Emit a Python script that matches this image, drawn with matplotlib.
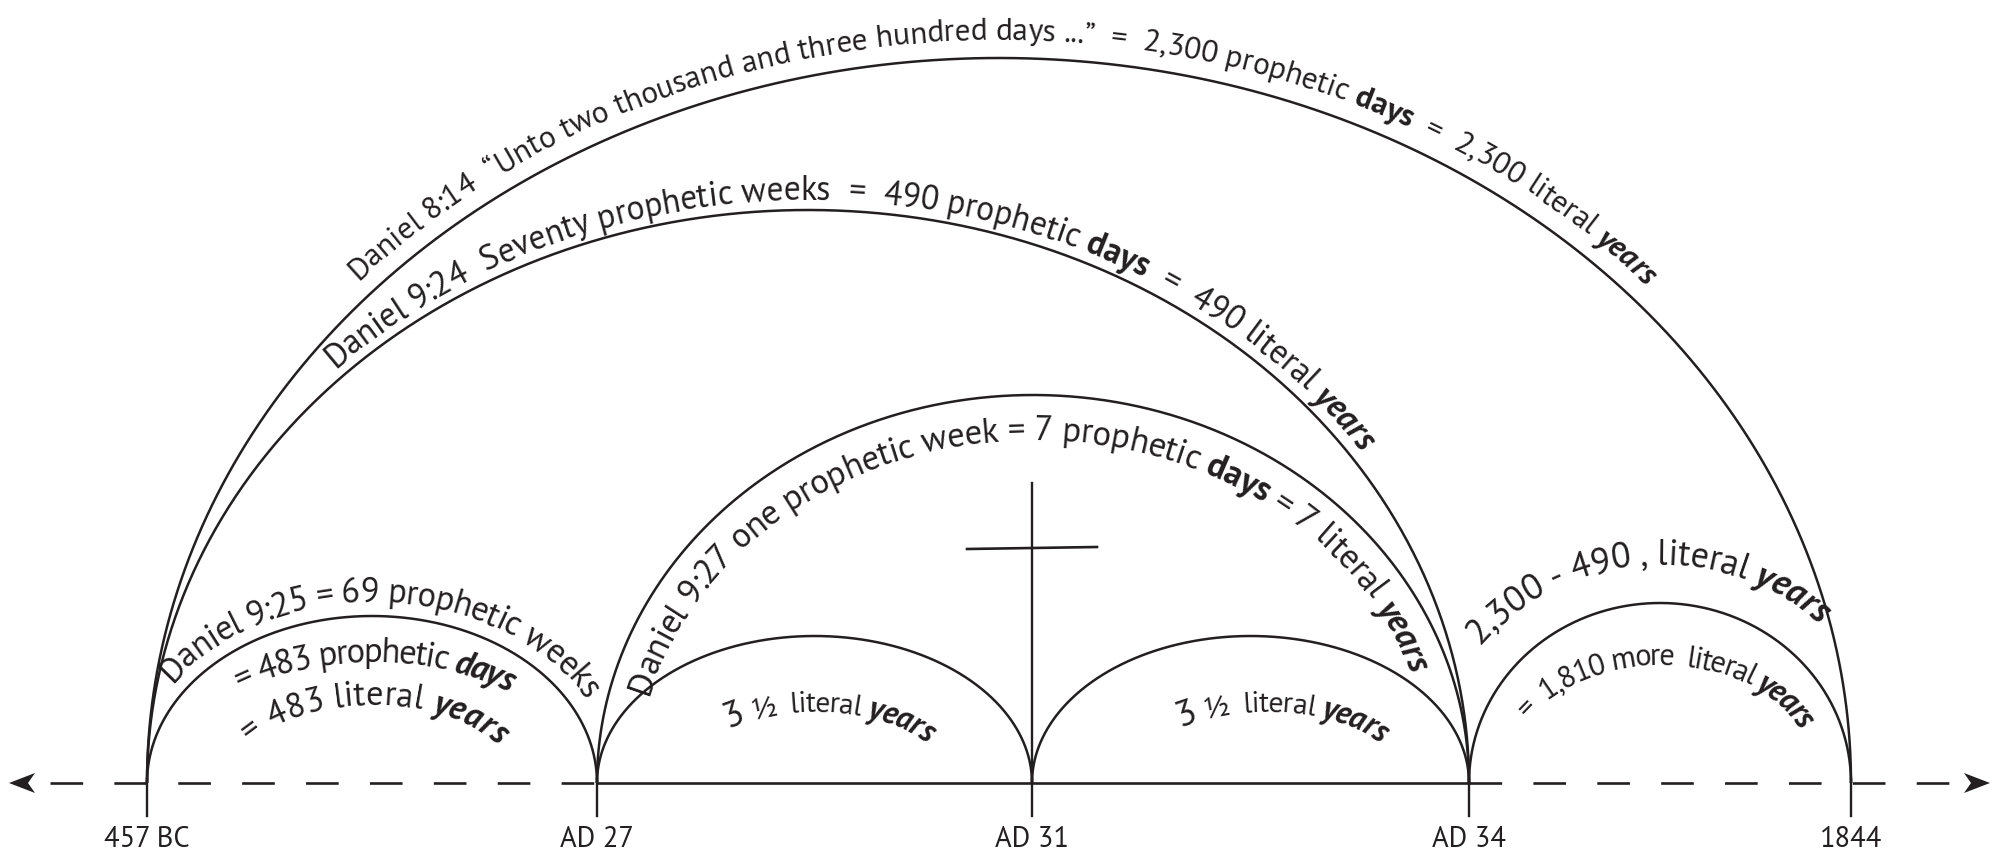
import numpy as np
import matplotlib
matplotlib.use('Agg')
import matplotlib.pyplot as plt
from matplotlib import font_manager as fm
from matplotlib.font_manager import FontProperties, findfont
from matplotlib.ft2font import FT2Font
from matplotlib.patches import Polygon

plt.rcParams['lines.scale_dashes'] = False

# ---------------- data ----------------
date_labels = ['457 BC', 'AD 27', 'AD 31', 'AD 34', '1844']
# arcs spanning between dates (index pairs)
arc_spans = [(0, 4), (0, 3), (1, 3), (0, 1), (1, 2), (2, 3), (3, 4)]

# texts: (arc index, segments[(text, style, relative size)])
text_segments = [
    (0, [('Daniel 8:14  \u201cUnto two thousand and three hundred days ...\u201d  =  2,300 prophetic ', 'r', 1.0),
         ('days', 'b', 1.0), ('  =  2,300 literal ', 'r', 1.0), ('years', 'bi', 1.0)]),
    (1, [('Daniel 9:24  Seventy prophetic weeks  =  490 prophetic ', 'r', 1.0),
         ('days', 'b', 1.0), ('  =  490 literal ', 'r', 1.0), ('years', 'bi', 1.0)]),
    (2, [('Daniel 9:27 one prophetic week = 7 prophetic ', 'r', 1.0),
         ('days', 'b', 1.0), (' = 7 literal ', 'r', 1.0), ('years', 'bi', 1.0)]),
    (3, [('Daniel 9:25 = 69 prophetic weeks', 'r', 1.0)]),
    (3, [('= 483 prophetic ', 'r', 1.0), ('days', 'bi', 1.0)]),
    (3, [('= 483 literal ', 'r', 1.0), ('years', 'bi', 1.0)]),
    (4, [('3', 'r', 1.25), (' \u00bd  literal ', 'r', 1.0), ('years', 'bi', 1.08)]),
    (5, [('3', 'r', 1.25), (' \u00bd  literal ', 'r', 1.0), ('years', 'bi', 1.08)]),
    (6, [('2,300 - 490 , literal ', 'r', 1.0), ('years', 'bi', 1.0)]),
    (6, [('=  1,810 more  literal ', 'r', 1.0), ('years', 'bi', 1.05)]),
]

# ---------------- layout ----------------
W, H, DPI = 2007, 858, 100
INK = '#231f20'
date_x = [147, 597, 1032, 1469, 1851]
BASE_Y = 783
arc_heights = [725, 573, 388, 167, 147, 147, 180]
# per-text baseline ellipse: (dcx, da, db, x_start, x_end, size multiplier vs. fit)
text_layout = [
    (0, 18, 18, 358, 1645, 1.02),
    (0, 10, 10, 335, 1360, 1.02),
    (0, -38, -45, 648, 1410, 1.04),
    (0, 14, 14, 172, 585, 1.06),
    (0, -20, -46, 240, 508, 1.12),
    (0, -82, -89, 250, 497, 1.0),
    (0, -82, -76, 728, 926, 1.08),
    (15, -80, -76, 1180, 1380, 1.08),
    (0, 41, 38, 1480, 1818, 1.04),
    (0, -34, -62, 1528, 1800, 1.15),
]
ARC_LW = 1.8
TICK_BOTTOM = 816
LABEL_BASE = 847
LABEL_CAP_PX = 20.0


def pick_family():
    cands = ['Source Sans 3', 'Source Sans Pro', 'PT Sans', 'Myriad Pro', 'Open Sans']
    for fam in cands:
        ent = [f for f in fm.fontManager.ttflist if f.name == fam]
        if not ent:
            continue
        def w(f):
            try:
                return int(f.weight)
            except Exception:
                return 700 if 'bold' in str(f.weight).lower() else 400
        reg = any(f.style == 'normal' and w(f) == 400 for f in ent)
        bold = any(f.style == 'normal' and w(f) >= 600 for f in ent)
        bi = any(f.style == 'italic' and w(f) >= 600 for f in ent)
        if reg and bold and bi:
            return fam
    return 'Open Sans'


FAMILY = pick_family()


def make_prop(style):
    if style == 'b':
        return FontProperties(family=FAMILY, weight='bold')
    if style == 'bi':
        return FontProperties(family=FAMILY, weight='bold', style='italic')
    return FontProperties(family=FAMILY)


def cap_fraction(prop):
    font = FT2Font(findfont(prop), hinting_factor=1)
    try:
        os2 = font.get_sfnt_table('OS/2')
        cap = os2.get('sCapHeight', 0)
        if cap:
            return cap / font.units_per_EM
    except Exception:
        pass
    return 0.7


def arc_geom(i):
    a_idx, b_idx = arc_spans[i]
    x0, x1 = date_x[a_idx], date_x[b_idx]
    return (x0 + x1) / 2, (x1 - x0) / 2, arc_heights[i]


def text_on_arc(ax, cx, a, b, xs, xe, segments, mult):
    th = np.linspace(0, np.pi, 4000)
    x = cx - a * np.cos(th)
    y = BASE_Y - b * np.sin(th)
    s = np.concatenate([[0], np.cumsum(np.hypot(np.diff(x), np.diff(y)))])
    t0 = np.arccos(np.clip((cx - xs) / a, -1, 1))
    t1 = np.arccos(np.clip((cx - xe) / a, -1, 1))
    s0, s1 = np.interp(t0, th, s), np.interp(t1, th, s)
    span = s1 - s0
    ref = 20.0
    chars = []
    total = 0.0
    for txt, style, rel in segments:
        prop = make_prop(style)
        font = FT2Font(findfont(prop), hinting_factor=1)
        font.set_size(ref * rel, DPI)
        for c in txt:
            g = font.load_char(ord(c))
            adv = g.linearHoriAdvance / 65536.0
            chars.append((c, prop, rel, total, adv))
            total += adv
    k = span / total * mult
    n = len(chars)
    track = (span - total * k) / (n - 1) if n > 1 else 0.0
    for i, (c, prop, rel, cum, adv) in enumerate(chars):
        if c == ' ':
            continue
        sc = s0 + cum * k + i * track + adv * k / 2
        tt = np.interp(sc, s, th)
        px = cx - a * np.cos(tt)
        py = BASE_Y - b * np.sin(tt)
        ang = np.degrees(np.arctan2(b * np.cos(tt), a * np.sin(tt)))
        ax.text(px, py, c, fontproperties=prop, fontsize=ref * k * rel, rotation=ang,
                rotation_mode='anchor', ha='center', va='baseline', color=INK)


fig = plt.figure(figsize=(W / DPI, H / DPI), dpi=DPI)
ax = fig.add_axes([0, 0, 1, 1])
ax.set_xlim(0, W)
ax.set_ylim(H, 0)
ax.axis('off')

# arcs
for i in range(len(arc_spans)):
    cx, a, b = arc_geom(i)
    th = np.linspace(0, np.pi, 600)
    ax.plot(cx - a * np.cos(th), BASE_Y - b * np.sin(th), color=INK, lw=ARC_LW,
            solid_capstyle='butt')

# baseline
ax.plot([50, date_x[1]], [BASE_Y, BASE_Y], color=INK, lw=1.9, dashes=(23.5, 22.5))
ax.plot([date_x[1], date_x[3]], [BASE_Y, BASE_Y], color=INK, lw=1.9)
ax.plot([date_x[3], 1962], [BASE_Y, BASE_Y], color=INK, lw=1.9, dashes=(23.5, 22.5))

# arrow heads
for tip, d in [(9, 1), (1990, -1)]:
    ax.add_patch(Polygon([(tip, BASE_Y), (tip + d * 26, BASE_Y - 10),
                          (tip + d * 19, BASE_Y), (tip + d * 26, BASE_Y + 10)],
                         closed=True, color=INK, lw=0))

# ticks and labels
reg_prop = make_prop('r')
label_size = LABEL_CAP_PX / cap_fraction(reg_prop) * 72.0 / DPI
for xd, lab in zip(date_x, date_labels):
    ax.plot([xd, xd], [BASE_Y - 4, TICK_BOTTOM], color=INK, lw=1.7)
    ax.text(xd, LABEL_BASE, lab, ha='center', va='baseline', fontsize=label_size,
            family=FAMILY, color=INK)

# cross
ax.plot([date_x[2], date_x[2]], [483, BASE_Y], color=INK, lw=1.7)
ax.plot([967, 1097], [549, 547], color=INK, lw=1.9)

# curved texts
for (arc_i, segs), (dcx, da, db, xs, xe, mult) in zip(text_segments, text_layout):
    cx, a, b = arc_geom(arc_i)
    text_on_arc(ax, cx + dcx, a + da, b + db, xs, xe, segs, mult)

fig.savefig('out.png', dpi=DPI, facecolor='white')
